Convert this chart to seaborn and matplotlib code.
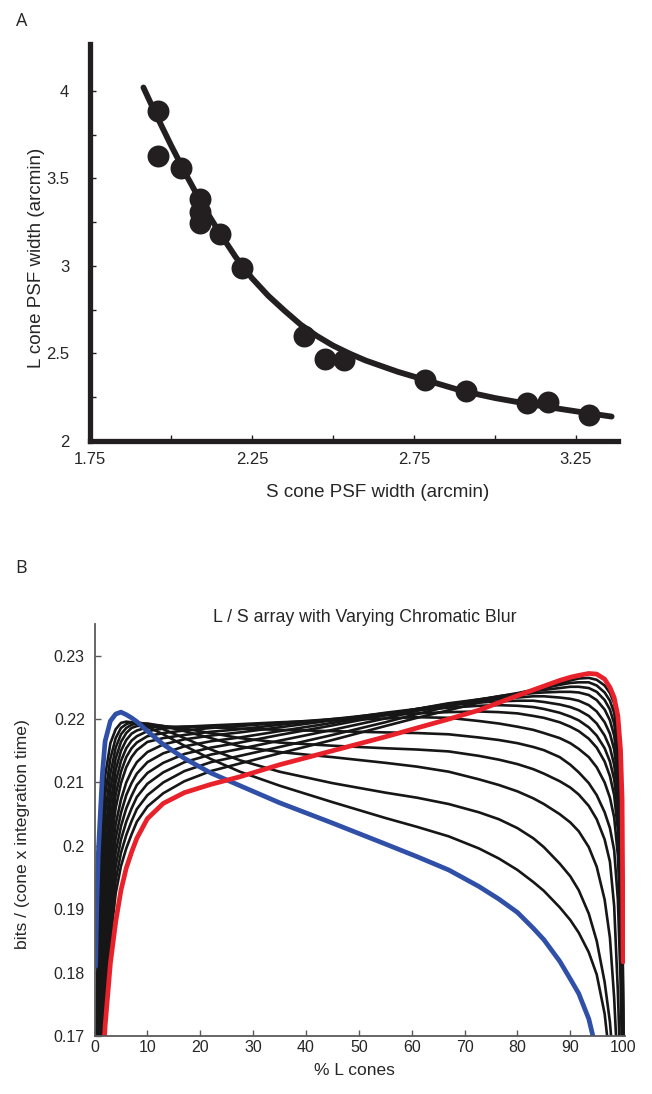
import numpy as np
import pandas as pd
import matplotlib
matplotlib.use("Agg")
import matplotlib.pyplot as plt
import seaborn as sns

nan = np.nan

# ---- panel A: PSF widths (arcmin) ----
s_width = [1.96, 1.96, 2.03, 2.09, 2.09, 2.09, 2.15, 2.22, 2.41, 2.475, 2.535, 2.785, 2.91, 3.10, 3.165, 3.29]
l_width = [3.885, 3.63, 3.56, 3.38, 3.31, 3.245, 3.18, 2.99, 2.60, 2.47, 2.465, 2.35, 2.285, 2.218, 2.22, 2.15]

fit_s = [1.915, 1.95, 2.00, 2.05, 2.10, 2.15, 2.20, 2.25, 2.30, 2.35, 2.40, 2.45, 2.50, 2.55, 2.60,
         2.70, 2.80, 2.90, 3.00, 3.10, 3.20, 3.30, 3.36]
fit_l = [4.02, 3.88, 3.69, 3.51, 3.34, 3.19, 3.05, 2.93, 2.83, 2.745, 2.665, 2.60, 2.545, 2.50, 2.46,
         2.395, 2.34, 2.285, 2.245, 2.212, 2.183, 2.155, 2.139]

# ---- panel B: bits / (cone x integration time) vs % L cones ----
pct_grid = [0.2, 0.4, 0.7, 1, 1.5, 2, 3, 4, 5, 6, 7, 8, 10,
            13, 17, 22, 27.5, 35, 45, 55, 61, 67, 72.7,
            76.5, 80, 83, 85, 88, 90, 91.6, 93.5, 95,
            96.5, 97.5, 98.3, 99, 99.5, 99.8, 100]

blue_curve = [0.1810, 0.1900, 0.1985, 0.2036, 0.2115, 0.2165, 0.2197, 0.2208, 0.2211, 0.2207, 0.2202, 0.2196, 0.2181,
              0.2160, 0.2138, 0.2115, 0.2095, 0.2068, 0.2036, 0.2003, 0.1983, 0.1962, 0.1936,
              0.1916, 0.1895, 0.1870, 0.1852, 0.1818, 0.1790, 0.1767, 0.1727, 0.1675,
              nan, nan, nan, nan, nan, nan, nan]
red_curve = [nan, nan, nan, 0.1500, 0.1640, 0.1716, 0.1815, 0.1880, 0.1930, 0.1965, 0.1990, 0.2012, 0.2043,
             0.2067, 0.2084, 0.2097, 0.2109, 0.2128, 0.2150, 0.2172, 0.2186, 0.2200, 0.2214,
             0.2226, 0.2237, 0.2246, 0.2252, 0.2261, 0.2266, 0.2269, 0.2272, 0.2271,
             0.2263, 0.2250, 0.2234, 0.2205, 0.2152, 0.2073, 0.1817]

black_01 = [0.1580, 0.1735, 0.1880, 0.1965, 0.2055, 0.2110, 0.2162, 0.2184, 0.2194, 0.2196, 0.2195, 0.2193, 0.2188,
            0.2176, 0.2158, 0.2137, 0.2117, 0.2095, 0.2069, 0.2044, 0.2030, 0.2015, 0.1996,
            0.1980, 0.1962, 0.1943, 0.1929, 0.1903, 0.1883, 0.1863, 0.1832, 0.1797,
            0.1735, 0.1660, nan, nan, nan, nan, nan]
black_02 = [0.1500, 0.1670, 0.1830, 0.1925, 0.2018, 0.2080, 0.2138, 0.2170, 0.2186, 0.2192, 0.2195, 0.2195, 0.2192,
            0.2184, 0.2170, 0.2152, 0.2135, 0.2117, 0.2099, 0.2084, 0.2076, 0.2066, 0.2053,
            0.2042, 0.2028, 0.2012, 0.1998, 0.1972, 0.1952, 0.1930, 0.1893, 0.1850,
            0.1785, 0.1722, 0.1640, nan, nan, nan, nan]
black_03 = [0.1420, 0.1605, 0.1780, 0.1885, 0.1981, 0.2050, 0.2114, 0.2155, 0.2176, 0.2186, 0.2191, 0.2193, 0.2193,
            0.2189, 0.2181, 0.2170, 0.2157, 0.2148, 0.2140, 0.2131, 0.2125, 0.2117, 0.2105,
            0.2096, 0.2086, 0.2075, 0.2066, 0.2050, 0.2037, 0.2023, 0.1998, 0.1967,
            0.1915, 0.1855, 0.1760, 0.1640, nan, nan, nan]
black_04 = [0.1350, 0.1545, 0.1735, 0.1845, 0.1944, 0.2020, 0.2090, 0.2138, 0.2164, 0.2178, 0.2186, 0.2189, 0.2191,
            0.2189, 0.2185, 0.2178, 0.2170, 0.2163, 0.2158, 0.2154, 0.2152, 0.2149, 0.2142,
            0.2136, 0.2129, 0.2121, 0.2114, 0.2102, 0.2092, 0.2081, 0.2063, 0.2042,
            0.2010, 0.1975, 0.1905, 0.1770, 0.1640, nan, nan]
black_05 = [0.1280, 0.1490, 0.1690, 0.1805, 0.1907, 0.1990, 0.2066, 0.2120, 0.2150, 0.2167, 0.2177, 0.2182, 0.2187,
            0.2188, 0.2188, 0.2187, 0.2185, 0.2183, 0.2181, 0.2179, 0.2178, 0.2176, 0.2171,
            0.2167, 0.2162, 0.2156, 0.2151, 0.2140, 0.2128, 0.2116, 0.2099, 0.2080,
            0.2053, 0.2028, 0.1993, 0.1915, 0.1790, 0.1660, nan]
black_06 = [0.1220, 0.1440, 0.1645, 0.1765, 0.1870, 0.1960, 0.2042, 0.2101, 0.2134, 0.2154, 0.2166, 0.2173, 0.2181,
            0.2185, 0.2188, 0.2190, 0.2192, 0.2195, 0.2198, 0.2201, 0.2203, 0.2202, 0.2197,
            0.2193, 0.2188, 0.2183, 0.2178, 0.2170, 0.2162, 0.2153, 0.2140, 0.2124,
            0.2100, 0.2076, 0.2045, 0.1985, 0.1880, 0.1760, 0.1640]
black_07 = [0.1160, 0.1395, 0.1605, 0.1728, 0.1835, 0.1930, 0.2018, 0.2081, 0.2117, 0.2140, 0.2154, 0.2163, 0.2173,
            0.2178, 0.2182, 0.2186, 0.2189, 0.2194, 0.2200, 0.2206, 0.2209, 0.2211, 0.2212,
            0.2211, 0.2209, 0.2205, 0.2202, 0.2195, 0.2188, 0.2181, 0.2169, 0.2155,
            0.2133, 0.2110, 0.2080, 0.2025, 0.1930, 0.1820, 0.1670]
black_08 = [0.1100, 0.1350, 0.1565, 0.1692, 0.1800, 0.1900, 0.1994, 0.2060, 0.2099, 0.2124, 0.2140, 0.2151, 0.2164,
            0.2170, 0.2175, 0.2180, 0.2184, 0.2191, 0.2200, 0.2209, 0.2214, 0.2218, 0.2221,
            0.2222, 0.2221, 0.2219, 0.2216, 0.2210, 0.2204, 0.2198, 0.2187, 0.2174,
            0.2154, 0.2133, 0.2105, 0.2055, 0.1970, 0.1870, 0.1680]
black_09 = [0.1050, 0.1310, 0.1530, 0.1658, 0.1767, 0.1870, 0.1970, 0.2034, 0.2073, 0.2100, 0.2118, 0.2132, 0.2148,
            0.2160, 0.2168, 0.2174, 0.2179, 0.2187, 0.2198, 0.2210, 0.2216, 0.2222, 0.2226,
            0.2228, 0.2229, 0.2229, 0.2227, 0.2223, 0.2219, 0.2214, 0.2205, 0.2193,
            0.2174, 0.2155, 0.2128, 0.2080, 0.2000, 0.1905, 0.1690]
black_10 = [0.1000, 0.1270, 0.1495, 0.1625, 0.1735, 0.1840, 0.1946, 0.2012, 0.2052, 0.2080, 0.2099, 0.2114, 0.2132,
            0.2146, 0.2157, 0.2165, 0.2171, 0.2181, 0.2194, 0.2208, 0.2216, 0.2224, 0.2229,
            0.2232, 0.2234, 0.2236, 0.2236, 0.2234, 0.2232, 0.2229, 0.2222, 0.2212,
            0.2195, 0.2177, 0.2152, 0.2105, 0.2030, 0.1935, 0.1690]
black_11 = [0.0960, 0.1235, 0.1465, 0.1595, 0.1705, 0.1810, 0.1922, 0.1990, 0.2031, 0.2059, 0.2079, 0.2096, 0.2115,
            0.2131, 0.2145, 0.2155, 0.2163, 0.2175, 0.2190, 0.2206, 0.2216, 0.2225, 0.2231,
            0.2235, 0.2238, 0.2241, 0.2242, 0.2243, 0.2243, 0.2242, 0.2238, 0.2230,
            0.2215, 0.2198, 0.2174, 0.2128, 0.2055, 0.1960, 0.1690]
black_12 = [0.0920, 0.1200, 0.1435, 0.1568, 0.1678, 0.1782, 0.1898, 0.1968, 0.2010, 0.2038, 0.2059, 0.2077, 0.2098,
            0.2116, 0.2132, 0.2144, 0.2153, 0.2166, 0.2183, 0.2201, 0.2213, 0.2223, 0.2231,
            0.2236, 0.2240, 0.2244, 0.2246, 0.2249, 0.2251, 0.2251, 0.2249, 0.2243,
            0.2230, 0.2215, 0.2193, 0.2150, 0.2078, 0.1985, 0.1690]
black_13 = [0.0880, 0.1170, 0.1410, 0.1545, 0.1655, 0.1768, 0.1874, 0.1946, 0.1989, 0.2017, 0.2039, 0.2058, 0.2080,
            0.2100, 0.2118, 0.2132, 0.2142, 0.2156, 0.2175, 0.2195, 0.2208, 0.2220, 0.2230,
            0.2236, 0.2241, 0.2246, 0.2249, 0.2254, 0.2257, 0.2258, 0.2258, 0.2253,
            0.2242, 0.2229, 0.2210, 0.2170, 0.2100, 0.2008, 0.1690]
black_14 = [0.0840, 0.1140, 0.1385, 0.1525, 0.1635, 0.1750, 0.1850, 0.1925, 0.1968, 0.1996, 0.2018, 0.2038, 0.2062,
            0.2083, 0.2102, 0.2118, 0.2130, 0.2146, 0.2167, 0.2189, 0.2202, 0.2214, 0.2226,
            0.2233, 0.2240, 0.2246, 0.2250, 0.2256, 0.2261, 0.2264, 0.2265, 0.2262,
            0.2253, 0.2241, 0.2225, 0.2188, 0.2120, 0.2030, 0.1690]

black_curves = [black_01, black_02, black_03, black_04, black_05, black_06, black_07,
                black_08, black_09, black_10, black_11, black_12, black_13, black_14]

b_yticks = [0.17, 0.18, 0.19, 0.20, 0.21, 0.22, 0.23]
b_yticklabels = ['0.17', '0.18', '0.19', '0.2', '0.21', '0.22', '0.23']


def long_frame(curves):
    rows = []
    for i, vals in enumerate(curves):
        for x, y in zip(pct_grid, vals):
            rows.append((i, x, y))
    return pd.DataFrame(rows, columns=['curve', 'pct', 'bits']).dropna()


sns.set_style("ticks")
plt.rcParams['font.family'] = ['Liberation Sans', 'DejaVu Sans']
ink = '#231f20'
axis_grey = '#5a5a5a'

fig = plt.figure(figsize=(6.52, 10.94), dpi=100)
ax_a = fig.add_axes([0.138, 0.597, 0.810, 0.363])
ax_b = fig.add_axes([0.145, 0.053, 0.814, 0.3766])

# ---- panel A ----
fit_df = pd.DataFrame({'s': fit_s, 'l': fit_l})
sns.lineplot(data=fit_df, x='s', y='l', ax=ax_a, color=ink, linewidth=4.2,
             estimator=None, sort=False)
sns.scatterplot(x=s_width, y=l_width, ax=ax_a, s=250, color=ink, linewidth=0, zorder=3)
ax_a.set_xlim(1.75, 3.38)
ax_a.set_ylim(2, 4.27)
ax_a.set_xticks([1.75, 2.0, 2.25, 2.5, 2.75, 3.0, 3.25])
ax_a.set_xticklabels(['1.75', '', '2.25', '', '2.75', '', '3.25'])
ax_a.set_yticks([2, 2.25, 2.5, 2.75, 3, 3.25, 3.5, 3.75, 4])
ax_a.set_yticklabels(['2', '', '2.5', '', '3', '', '3.5', '', '4'])
sns.despine(ax=ax_a)
for side in ['left', 'bottom']:
    ax_a.spines[side].set_linewidth(3.8)
    ax_a.spines[side].set_color(ink)
ax_a.tick_params(direction='in', length=4, width=1, color=ink, labelsize=12)
ax_a.tick_params(axis='y', pad=15)
ax_a.tick_params(axis='x', pad=8)
ax_a.set_xlabel('S cone PSF width (arcmin)', fontsize=13.5)
ax_a.set_ylabel('L cone PSF width (arcmin)', fontsize=13.5)
ax_a.xaxis.set_label_coords(0.544, -0.108)
ax_a.yaxis.set_label_coords(-0.085, 0.46)

# ---- panel B ----
sns.lineplot(data=long_frame(black_curves), x='pct', y='bits', units='curve', ax=ax_b,
             estimator=None, sort=False, color='#161616', linewidth=1.9)
sns.lineplot(data=long_frame([blue_curve]), x='pct', y='bits', ax=ax_b,
             estimator=None, sort=False, color='#3050a8', linewidth=3.4)
sns.lineplot(data=long_frame([red_curve]), x='pct', y='bits', ax=ax_b,
             estimator=None, sort=False, color='#e8212b', linewidth=3.4)
ax_b.set_xlim(0, 100.4)
ax_b.set_ylim(0.17, 0.235)
ax_b.set_xticks(range(0, 101, 10))
ax_b.set_yticks(b_yticks)
ax_b.set_yticklabels(b_yticklabels)
sns.despine(ax=ax_b)
for side in ['left', 'bottom']:
    ax_b.spines[side].set_linewidth(1.3)
    ax_b.spines[side].set_color(axis_grey)
ax_b.tick_params(direction='in', length=4, width=1, color=axis_grey, labelsize=11.5)
ax_b.tick_params(axis='x', pad=3)
ax_b.tick_params(axis='y', pad=7)
ax_b.set_xlabel('% L cones', fontsize=12.5)
ax_b.set_ylabel('bits / (cone x integration time)', fontsize=12.6)
ax_b.xaxis.set_label_coords(0.49, -0.066)
ax_b.yaxis.set_label_coords(-0.122, 0.49)
ax_b.text(0.51, 1.017, 'L / S array with Varying Chromatic Blur', transform=ax_b.transAxes,
          ha='center', va='center', fontsize=12.8)

fig.text(22 / 652, 1 - 21 / 1094, 'A', ha='center', va='center', fontsize=13, family=['Open Sans', 'DejaVu Sans'])
fig.text(21 / 652, 1 - 568 / 1094, 'B', ha='center', va='center', fontsize=13, family=['Open Sans', 'DejaVu Sans'])

fig.savefig('out.png', dpi=100)
